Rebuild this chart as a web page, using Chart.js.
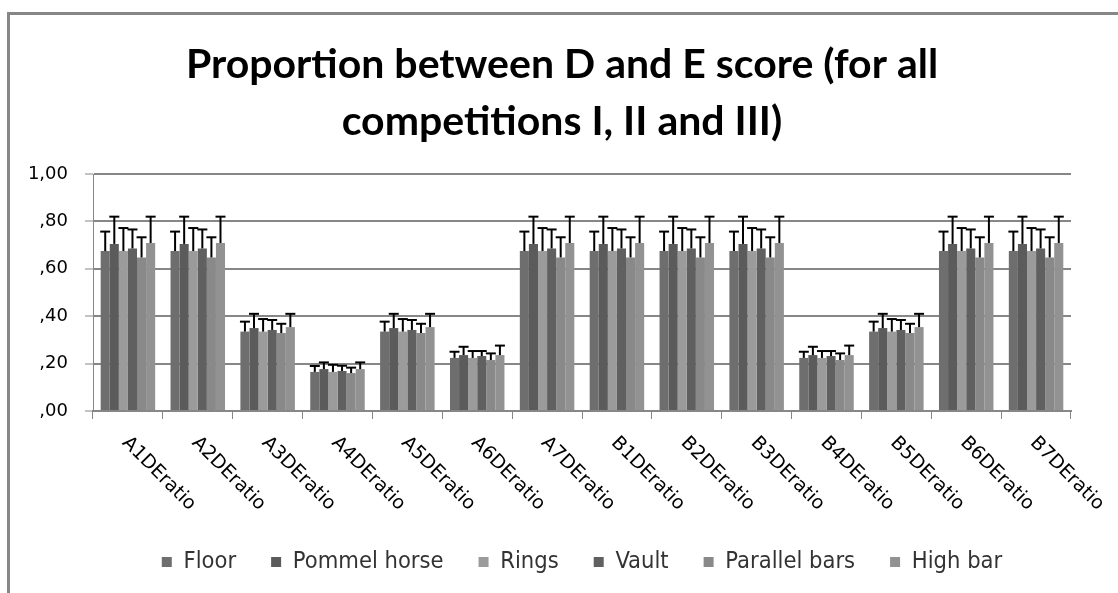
<!DOCTYPE html>
<html>
<head>
<meta charset="utf-8">
<script src="https://cdn.jsdelivr.net/npm/chart.js@4.4.1/dist/chart.umd.min.js"></script>
<style>
  html, body { margin: 0; padding: 0; background: #fff; }
  #frame {
    position: absolute; left: 7px; top: 12px; width: 1111px; height: 581px;
    border-left: 3px solid #878787; border-top: 3px solid #878787;
  }
  #box { position: absolute; left: 0; top: 0; width: 1108px; height: 578px; }
</style>
</head>
<body>
<div id="frame"><div id="box"><canvas id="myChart"></canvas></div></div>
<script>
// data
const categories = ['A1DEratio', 'A2DEratio', 'A3DEratio', 'A4DEratio', 'A5DEratio', 'A6DEratio', 'A7DEratio',
                    'B1DEratio', 'B2DEratio', 'B3DEratio', 'B4DEratio', 'B5DEratio', 'B6DEratio', 'B7DEratio'];
const yTickLabels = [',00', ',20', ',40', ',60', ',80', '1,00'];

const floor    = [0.675, 0.675, 0.335, 0.165, 0.335, 0.224, 0.675, 0.675, 0.675, 0.675, 0.224, 0.335, 0.675, 0.675];
const pommel   = [0.705, 0.705, 0.350, 0.177, 0.350, 0.236, 0.705, 0.705, 0.705, 0.705, 0.236, 0.350, 0.705, 0.705];
const rings    = [0.675, 0.675, 0.335, 0.165, 0.335, 0.224, 0.675, 0.675, 0.675, 0.675, 0.224, 0.335, 0.675, 0.675];
const vault    = [0.686, 0.686, 0.342, 0.169, 0.342, 0.232, 0.686, 0.686, 0.686, 0.686, 0.232, 0.342, 0.686, 0.686];
const parallel = [0.648, 0.648, 0.329, 0.160, 0.329, 0.215, 0.648, 0.648, 0.648, 0.648, 0.215, 0.329, 0.648, 0.648];
const highbar  = [0.709, 0.709, 0.354, 0.177, 0.354, 0.236, 0.709, 0.709, 0.709, 0.709, 0.236, 0.354, 0.709, 0.709];

// upper error (sd)
const floorErr    = [0.082, 0.082, 0.042, 0.025, 0.042, 0.026, 0.082, 0.082, 0.082, 0.082, 0.026, 0.042, 0.082, 0.082];
const pommelErr   = [0.115, 0.115, 0.060, 0.028, 0.060, 0.035, 0.115, 0.115, 0.115, 0.115, 0.035, 0.060, 0.115, 0.115];
const ringsErr    = [0.097, 0.097, 0.053, 0.030, 0.053, 0.029, 0.097, 0.097, 0.097, 0.097, 0.029, 0.053, 0.097, 0.097];
const vaultErr    = [0.080, 0.080, 0.042, 0.022, 0.042, 0.021, 0.080, 0.080, 0.080, 0.080, 0.021, 0.042, 0.080, 0.080];
const parallelErr = [0.085, 0.085, 0.039, 0.023, 0.039, 0.028, 0.085, 0.085, 0.085, 0.085, 0.028, 0.039, 0.085, 0.085];
const highbarErr  = [0.111, 0.111, 0.056, 0.028, 0.056, 0.040, 0.111, 0.111, 0.111, 0.111, 0.040, 0.056, 0.111, 0.111];

const grey = '#878787';
const yFont = '18px "DejaVu Sans"';

// width of the widest y label, so the mirrored labels can sit left of the axis
const mctx = document.createElement('canvas').getContext('2d');
mctx.font = yFont;
const yLabelW = Math.max(...yTickLabels.map(t => mctx.measureText(t).width));

// error bars on top of every bar
const errorBars = {
  id: 'errorBars',
  afterDatasetsDraw(chart) {
    const ctx = chart.ctx;
    const y = chart.scales.y;
    ctx.save();
    ctx.strokeStyle = '#000';
    chart.data.datasets.forEach((ds, di) => {
      const meta = chart.getDatasetMeta(di);
      meta.data.forEach((bar, i) => {
        const top = y.getPixelForValue(ds.data[i] + ds.err[i]);
        ctx.lineWidth = 2;
        ctx.beginPath();
        ctx.moveTo(bar.x, bar.y);
        ctx.lineTo(bar.x, top);
        ctx.stroke();
        ctx.beginPath();
        ctx.moveTo(bar.x - 5, top);
        ctx.lineTo(bar.x + 5, top);
        ctx.stroke();
      });
    });
    ctx.restore();
  }
};

// x labels slanted downwards to the right
const slantLabels = {
  id: 'slantLabels',
  afterDraw(chart) {
    const ctx = chart.ctx;
    const x = chart.scales.x;
    ctx.save();
    ctx.fillStyle = '#000';
    ctx.font = '19px "DejaVu Sans"';
    ctx.textAlign = 'left';
    ctx.textBaseline = 'middle';
    categories.forEach((lab, i) => {
      ctx.save();
      ctx.translate(x.getPixelForValue(i) - 3, x.top + 29);
      ctx.rotate(Math.PI / 4);
      ctx.fillText(lab, 0, 0);
      ctx.restore();
    });
    ctx.restore();
  }
};

new Chart(document.getElementById('myChart'), {
  type: 'bar',
  data: {
    labels: categories,
    datasets: [
      { label: 'Floor', data: floor, err: floorErr, backgroundColor: '#6e6e6e' },
      { label: 'Pommel horse', data: pommel, err: pommelErr, backgroundColor: '#5b5b5b' },
      { label: 'Rings', data: rings, err: ringsErr, backgroundColor: '#9b9b9b' },
      { label: 'Vault', data: vault, err: vaultErr, backgroundColor: '#606060' },
      { label: 'Parallel bars', data: parallel, err: parallelErr, backgroundColor: '#898989' },
      { label: 'High bar', data: highbar, err: highbarErr, backgroundColor: '#929292' }
    ]
  },
  options: {
    responsive: true,
    maintainAspectRatio: false,
    animation: false,
    categoryPercentage: 0.78,
    barPercentage: 1.0,
    layout: { padding: { left: 43, right: 47, top: 0, bottom: 9.25 } },
    plugins: {
      title: {
        display: true,
        text: ['Proportion between D and E score (for all', 'competitions I, II and III)'],
        color: '#000',
        font: { family: 'Lato', size: 41, weight: 'bold', lineHeight: '57px' },
        padding: { top: 21.5, bottom: 23.5 }
      },
      legend: {
        position: 'bottom',
        fullSize: false,
        labels: {
          boxWidth: 10,
          boxHeight: 10,
          padding: 35,
          color: '#333',
          font: { family: '"DejaVu Sans Condensed"', size: 23.5 }
        }
      },
      tooltip: { enabled: false }
    },
    scales: {
      x: {
        ticks: { display: false },
        grid: { drawOnChartArea: false, color: grey, tickLength: 8, tickWidth: 1 },
        border: { color: grey, width: 2 },
        afterFit(scale) { scale.height = 104.25; }
      },
      y: {
        min: 0,
        max: 1,
        ticks: {
          stepSize: 0.2,
          mirror: true,
          crossAlign: 'far',
          padding: -(25 + yLabelW),
          color: '#000',
          font: { family: 'DejaVu Sans', size: 18 },
          callback: (v, i) => yTickLabels[i]
        },
        grid: { color: grey, lineWidth: 2, tickLength: 8, tickWidth: 1 },
        border: { color: grey, width: 1 },
        afterFit(scale) { scale.width = 40; }
      }
    }
  },
  plugins: [errorBars, slantLabels]
});
</script>
</body>
</html>
